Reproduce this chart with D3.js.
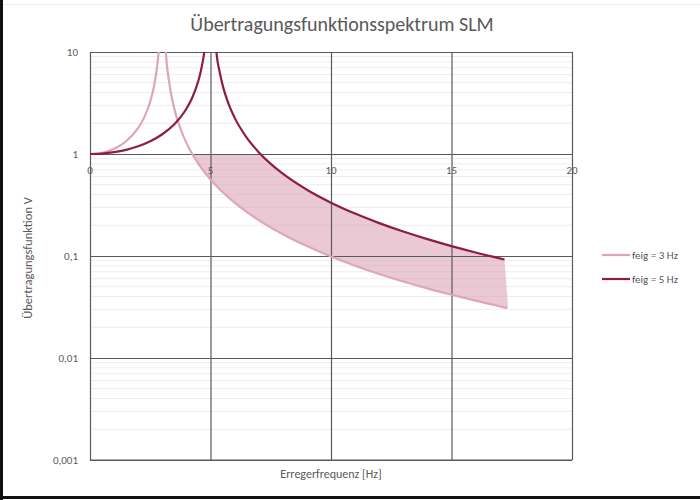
<!DOCTYPE html>
<html><head><meta charset="utf-8">
<script src="https://cdn.jsdelivr.net/npm/d3@7"></script>
<style>body{margin:0;background:#fff}svg{display:block;font-family:Calibri,Carlito,"Open Sans",sans-serif}</style>
</head><body><svg id="c" width="700" height="500"></svg>
<script>
const title = "Übertragungsfunktionsspektrum SLM";
const xTicks = [0, 5, 10, 15, 20];
const yTicks = [0.001, 0.01, 0.1, 1, 10];
const yTickLabels = ["0,001", "0,01", "0,1", "1", "10"];
const seriesNames = ["feig = 3 Hz", "feig = 5 Hz"];

// feig = 3 Hz, rising branch and falling branch
const f3a = [0, 0.5, 1, 1.5, 2, 2.25, 2.5, 2.65, 2.75, 2.8, 2.85];
const v3a = [1, 1.029, 1.125, 1.333, 1.8, 2.286, 3.273, 4.552, 6.26, 7.7, 10.26];
const f3b = [3.14, 3.2, 3.25, 3.35, 3.5, 3.75, 4, 4.25, 4.5, 5, 5.5, 6, 6.5, 7, 8, 9, 10, 11, 12, 13, 14, 15, 16, 17, 17.3];
const v3b = [10.47, 7.1, 5.76, 4.05, 2.769, 1.778, 1.286, 0.993, 0.8, 0.5625, 0.4235, 0.3333, 0.2707, 0.225, 0.1636, 0.125, 0.0989, 0.0804, 0.0667, 0.0563, 0.0481, 0.0417, 0.0365, 0.0321, 0.031];

// feig = 5 Hz
const f5a = [0, 0.5, 1, 1.5, 2, 2.5, 3, 3.5, 3.75, 4, 4.25, 4.5, 4.6, 4.7, 4.75];
const v5a = [1, 1.0101, 1.0417, 1.0989, 1.19, 1.333, 1.5625, 1.961, 2.286, 2.778, 3.604, 5.263, 6.51, 8.6, 10.26];
const f5b = [5.24, 5.3, 5.35, 5.5, 5.75, 6, 6.5, 7, 7.5, 8, 9, 10, 11, 12, 13, 14, 15, 16, 17, 17.2];
const v5b = [10.18, 7.9, 6.9, 4.762, 3.101, 2.273, 1.449, 1.0417, 0.8, 0.641, 0.4464, 0.3333, 0.2604, 0.2101, 0.1736, 0.1462, 0.125, 0.1082, 0.0947, 0.0923];

// shaded band between the curves (upper edge capped at 1)
const bandF = [4.24, 4.5, 5, 5.5, 6, 6.5, 7, 7.07, 7.5, 8, 9, 10, 11, 12, 13, 14, 15, 16, 17, 17.2];
const bandHigh = [1, 1, 1, 1, 1, 1, 1, 1, 0.8, 0.641, 0.4464, 0.3333, 0.2604, 0.2101, 0.1736, 0.1462, 0.125, 0.1082, 0.0947, 0.0923];
const bandLow = [1, 0.8, 0.5625, 0.4235, 0.3333, 0.2707, 0.225, 0.2196, 0.1905, 0.1636, 0.125, 0.0989, 0.0804, 0.0667, 0.0563, 0.0481, 0.0417, 0.0365, 0.0321, 0.031];
const bandEndF = 17.35, bandEndLow = 0.0306;

const svg = d3.select("#c");
const L = 90, R = 572, T = 52, B = 460;
const x = d3.scaleLinear().domain([0, 20]).range([L, R]);
const y = d3.scaleLog().domain([0.001, 10]).range([B, T]);
const light = "#dba7b9", dark = "#8c1d4a", grid = "#5a5a5a", txt = "#595959";

// frame
svg.append("rect").attr("x",0).attr("y",0).attr("width",700).attr("height",500).attr("fill","#fff");
svg.append("line").attr("x1",1.5).attr("x2",1.5).attr("y1",0).attr("y2",500).attr("stroke","#111").attr("stroke-width",3);
svg.append("line").attr("x1",0).attr("x2",700).attr("y1",497.5).attr("y2",497.5).attr("stroke","#111").attr("stroke-width",3);
svg.append("line").attr("x1",3).attr("x2",700).attr("y1",4.5).attr("y2",4.5).attr("stroke","#eee").attr("stroke-width",1);

// minor grid
const minors = [];
[0.001, 0.01, 0.1, 1].forEach(d => { for (let k = 2; k <= 9; k++) minors.push(d * k); });
svg.append("g").selectAll("line").data(minors).join("line")
  .attr("x1", L).attr("x2", R).attr("y1", d => y(d)).attr("y2", d => y(d))
  .attr("stroke", "#ededed").attr("stroke-width", 1);

// band
const bandPts = bandF.map((f, i) => [f, bandHigh[i]])
  .concat([[bandEndF, bandEndLow]])
  .concat(bandF.map((f, i) => [f, bandLow[i]]).reverse());
svg.append("path")
  .attr("d", d3.line().x(d => x(d[0])).y(d => y(d[1]))(bandPts) + "Z")
  .attr("fill", "#d99bb1").attr("fill-opacity", 0.55);

// major grid
const yg = d3.axisLeft(y).tickValues(yTicks).tickSize(-(R - L)).tickFormat("");
svg.append("g").attr("transform", `translate(${L},0)`).call(yg)
  .call(g => g.select(".domain").remove())
  .call(g => g.selectAll("line").attr("stroke", grid).attr("stroke-width", 1.2));
const xg = d3.axisBottom(x).tickValues(xTicks).tickSize(-(B - T)).tickFormat("");
svg.append("g").attr("transform", `translate(0,${B})`).call(xg)
  .call(g => g.select(".domain").remove())
  .call(g => g.selectAll("line").attr("stroke", grid).attr("stroke-width", 1.2));
svg.append("line").attr("x1",L).attr("x2",R).attr("y1",B).attr("y2",B).attr("stroke",grid).attr("stroke-width",1.2);

// tick labels
svg.append("g").selectAll("text").data(yTicks).join("text")
  .attr("x", L - 12).attr("y", d => y(d) + 4).attr("text-anchor", "end")
  .attr("font-size", 11).attr("fill", txt).text((d, i) => yTickLabels[i]);
svg.append("g").selectAll("text").data(xTicks).join("text")
  .attr("x", d => x(d)).attr("y", y(1) + 20).attr("text-anchor", "middle")
  .attr("font-size", 11).attr("fill", txt).text(d => d);

// curves
svg.append("clipPath").attr("id","clip").append("rect").attr("x",L).attr("y",T).attr("width",R-L).attr("height",B-T);
const line = d3.line().x(d => x(d[0])).y(d => y(d[1])).curve(d3.curveMonotoneX);
const cg = svg.append("g").attr("clip-path","url(#clip)");
[[f3a, v3a, light], [f3b, v3b, light], [f5a, v5a, dark], [f5b, v5b, dark]].forEach(([fs, vs, col]) => {
  cg.append("path").attr("d", line(fs.map((f, i) => [f, vs[i]])))
    .attr("fill", "none").attr("stroke", col).attr("stroke-width", 2.2);
});

// titles
svg.append("text").attr("x", 342).attr("y", 31).attr("text-anchor", "middle")
  .attr("font-size", 20).attr("fill", txt).text(title);
svg.append("text").attr("x", 331).attr("y", 478).attr("text-anchor", "middle")
  .attr("font-size", 12).attr("fill", txt).text("Erregerfrequenz [Hz]");
svg.append("text").attr("transform", "translate(32,258) rotate(-90)").attr("text-anchor", "middle")
  .attr("font-size", 12.5).attr("fill", txt).text("Übertragungsfunktion V");

// legend
const lg = svg.append("g");
[[light, 255], [dark, 279]].forEach(([col, ly], i) => {
  lg.append("line").attr("x1", 602).attr("x2", 630).attr("y1", ly).attr("y2", ly).attr("stroke", col).attr("stroke-width", 2.2);
  lg.append("text").attr("x", 632).attr("y", ly + 4).attr("font-size", 11).attr("fill", txt).text(seriesNames[i]);
});
</script></body></html>
